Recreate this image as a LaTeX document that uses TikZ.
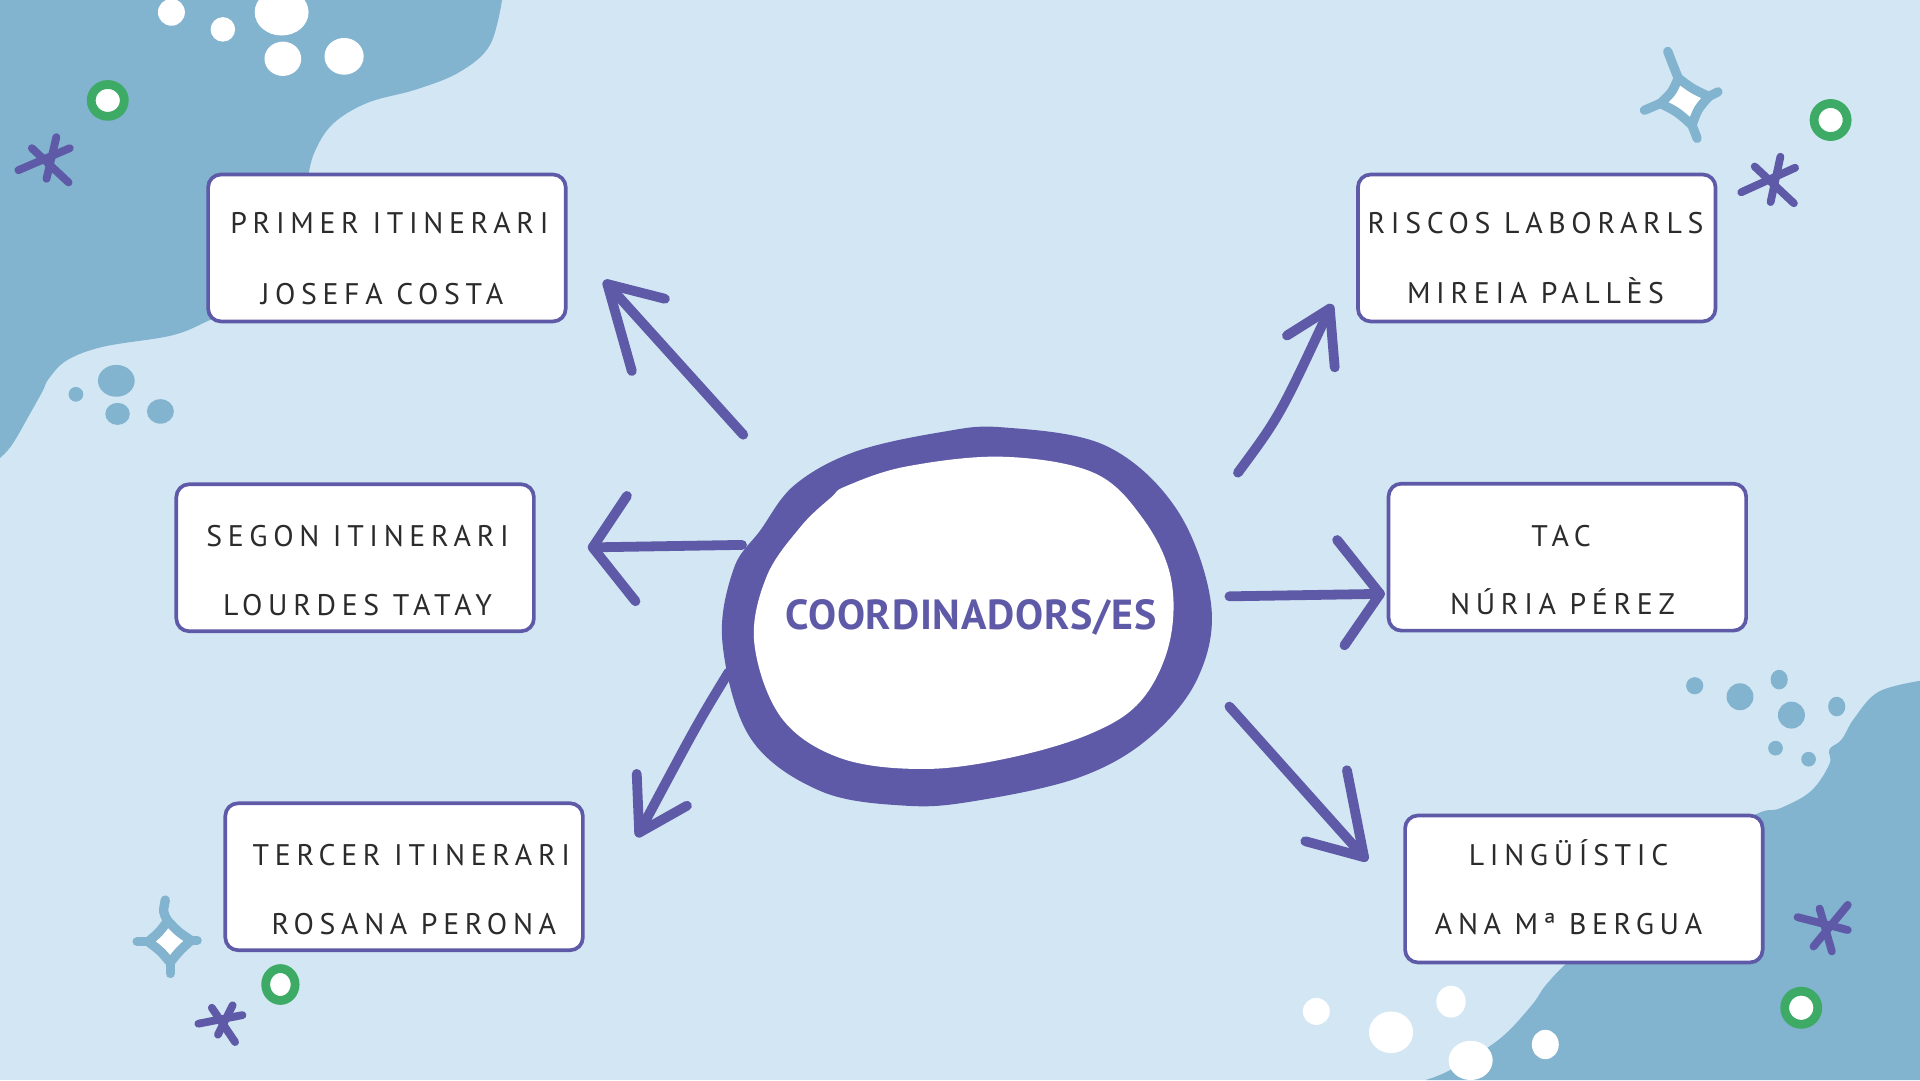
\documentclass[tikz,border=0pt]{standalone}
\usepackage{fontspec}
\newfontfamily\boxfont{PT Sans}[LetterSpace=19]
\newfontfamily\titlefont{PT Sans}[LetterSpace=2]
\usetikzlibrary{calc}
\definecolor{bgblue}{HTML}{D2E7F3}
\definecolor{blobblue}{HTML}{82B3CF}
\definecolor{purp}{HTML}{5E5AA8}
\definecolor{grn}{HTML}{3DAA66}
\definecolor{txt}{HTML}{2B2B2B}
\begin{document}
\begin{tikzpicture}[x=0.25mm,y=-0.25mm,
  boxnode/.style={draw=purp,line width=0.75mm,fill=white,rounded corners=2.6mm,minimum width=73mm,minimum height=30mm,inner sep=0pt},
  lbl/.style={anchor=base,inner sep=0pt,text=txt,font=\boxfont\fontsize{17.3pt}{20pt}\selectfont},
  arr/.style={draw=purp,line width=2mm,line cap=round,line join=round},
  ast/.style={draw=purp,line width=1.6mm,line cap=round},
  spark/.style={draw=blobblue,fill=white,line width=1.9mm,line join=round},
  sparktail/.style={draw=blobblue,line width=1.9mm,line cap=round},
  ring/.style={draw=grn,fill=white,line width=1.8mm},
  dot/.style={fill=white},
  ldot/.style={fill=blobblue}]
% background
\useasboundingbox (0,0) rectangle (1568,882);
\fill[bgblue] (0,0) rectangle (1568,882);
% top-left blob
\fill[blobblue] (0,0) -- (410,0) -- plot[smooth,tension=0.6] coordinates {(410,0) (400,37) (375,59) (340,73) (300,84) (272,101) (257,124) (250,150) (235,210) (205,245) (170,262) (140,274) (85,283) (55,294) (40,309) (35,319) (25,337) (10,363) (0,374)} -- cycle;
% bottom-right blob
\fill[blobblue] (1568,882) -- (1568,556) -- plot[smooth,tension=0.6] coordinates {(1568,556) (1534,565) (1514,587) (1504,604) (1494,612) (1494,624) (1479,646) (1454,660) (1429,668) (1360,720) (1300,770) (1279,787) (1262,805) (1250,822) (1224,849) (1184,874) (1164,882)} -- cycle;
% white dots top-left
\fill[dot] (140,10) ellipse (11 and 11);
\fill[dot] (182,24) ellipse (10 and 10);
\fill[dot] (230,10) ellipse (22 and 19);
\fill[dot] (231,48) ellipse (15 and 14);
\fill[dot] (281,46) ellipse (16 and 15);
% light dots left
\fill[ldot] (95,311) ellipse (15 and 13);
\fill[ldot] (62,322) ellipse (6 and 6);
\fill[ldot] (96,338) ellipse (10 and 9);
\fill[ldot] (131,336) ellipse (11 and 10);
% white dots bottom-right
\fill[dot] (1075,826) ellipse (11 and 11);
\fill[dot] (1136,843) ellipse (18 and 17);
\fill[dot] (1185,818) ellipse (12 and 13);
\fill[dot] (1201,866) ellipse (18 and 16);
\fill[dot] (1262,853) ellipse (11 and 12);
% light dots right
\fill[ldot] (1384,560) ellipse (7 and 7);
\fill[ldot] (1421,569) ellipse (11 and 11);
\fill[ldot] (1453,555) ellipse (7 and 8);
\fill[ldot] (1463,584) ellipse (11 and 11);
\fill[ldot] (1500,577) ellipse (7 and 8);
\fill[ldot] (1450,611) ellipse (6 and 6);
\fill[ldot] (1477,620) ellipse (6 and 6);
% green rings
\draw[ring] (88,82) ellipse (13.5 and 13);
\draw[ring] (1495,98) ellipse (13.5 and 13.5);
\draw[ring] (229,804) ellipse (12 and 13);
\draw[ring] (1471,823) ellipse (13.5 and 13.5);
% asterisks
\draw[ast] (46,112) -- (38,146);
\draw[ast] (57,121) -- (15,139);
\draw[ast] (26,121) -- (56,149);
\draw[ast] (1454,128) -- (1446,165);
\draw[ast] (1466,137) -- (1422,157);
\draw[ast] (1433,136) -- (1465,166);
\draw[ast] (190,821) -- (178,845);
\draw[ast] (198,829) -- (162,836);
\draw[ast] (173,823) -- (192,851);
\draw[ast] (1509,739) -- (1481,773);
\draw[ast] (1468,749) -- (1509,759.5);
\draw[ast] (1486,742) -- (1496,777);
% sparkles
\draw[sparktail] (1370.6,63.8) .. controls (1367,55) .. (1362,42);
\draw[sparktail] (1395.6,78.8) -- (1403,75);
\draw[sparktail] (1381.8,102.2) -- (1386,113);
\draw[sparktail] (1356,84.4) -- (1343,90);
\draw[spark] (1370.6,63.8) .. controls (1382,72.5) .. (1395.6,78.8) .. controls (1386.5,89) .. (1381.8,102.2) .. controls (1370,91.5) .. (1356,84.4) .. controls (1365.5,75.5) .. cycle;
\draw[sparktail] (137,752) .. controls (133,745) .. (135,735);
\draw[sparktail] (156,768) -- (161,768);
\draw[sparktail] (139,786) -- (139,795);
\draw[sparktail] (121,769) -- (112,769);
\draw[spark] (137,752) .. controls (145.5,761) .. (156,768) .. controls (146.5,776.5) .. (139,786) .. controls (131,776.5) .. (121,769) .. controls (130,761.5) .. cycle;
% central ring
\fill[purp] plot[smooth cycle,tension=0.6] coordinates {(819,349) (903,364) (961,416) (989,493) (978,554) (938,603) (881,635) (797,654) (740,658) (670,646) (613,603) (590,525) (599,465) (621,433) (649,396) (698,369) (768,353)};
\fill[white] plot[smooth cycle,tension=0.6] coordinates {(819,373) (893,386) (933,423) (956,471) (955,525) (932,572) (891,599) (824,619) (754,628) (686,619) (638,586) (616,525) (626,471) (654,430) (679,406) (691,397) (740,381)};
\node[anchor=base,inner sep=0pt,text=purp,font=\titlefont\bfseries\fontsize{24.4pt}{28pt}\selectfont] (hub) at (793,514) {COORDINADORS/ES};
% boxes
\node[boxnode] (b1) at (316,202.5) {};
\node[boxnode] (b2) at (290,455.5) {};
\node[boxnode] (b3) at (330,716) {};
\node[boxnode] (b4) at (1255,202.5) {};
\node[boxnode] (b5) at (1280,455) {};
\node[boxnode] (b6) at (1293.5,726) {};
\node[lbl] (t1a) at (318,191) {PRIMER ITINERARI};
\node[lbl] (t1b) at (312,249) {JOSEFA COSTA};
\node[lbl] (t2a) at (292,446) {SEGON ITINERARI};
\node[lbl] (t2b) at (292,503) {LOURDES TATAY};
\node[lbl] (t3a) at (336,707) {TERCER ITINERARI};
\node[lbl] (t3b) at (338,763) {ROSANA PERONA};
\node[lbl] (t4a) at (1254,191) {RISCOS LABORARLS};
\node[lbl] (t4b) at (1254,248) {MIREIA PALLÈS};
\node[lbl] (t5a) at (1275,446) {TAC};
\node[lbl] (t5b) at (1276,502) {NÚRIA PÉREZ};
\node[lbl] (t6a) at (1281,707) {LINGÜÍSTIC};
\node[lbl] (t6b) at (1281,763) {ANA Mª BERGUA};
% arrow coordinates
\coordinate (s1) at (607,355); \coordinate (e1) at (496,232);
\coordinate (s2) at (606,445); \coordinate (e2) at (484,447);
\coordinate (s3) at (595,549); \coordinate (e3) at (522,680);
\coordinate (s4) at (1011,386); \coordinate (e4) at (1086,252);
\coordinate (s5) at (1004,487); \coordinate (e5) at (1127,485);
\coordinate (s6) at (1004,577); \coordinate (e6) at (1114,700);
% arrows
\draw[arr] (s1) -- (e1);
\draw[arr] (543,244) -- (e1) -- (516,303);
\draw[arr] (s2) -- (e2);
\draw[arr] (512,405) -- (e2) -- (519,491);
\draw[arr] (s3) .. controls (570,590) .. (e3);
\draw[arr] (520,632) -- (e3) -- (561,658);
\draw[arr] (s4) .. controls (1045,340) .. (e4);
\draw[arr] (1051,274) -- (e4) -- (1090,300);
\draw[arr] (s5) -- (e5);
\draw[arr] (1092,441) -- (e5) -- (1098,527);
\draw[arr] (s6) -- (e6);
\draw[arr] (1100,629) -- (e6) -- (1066,687);
\end{tikzpicture}
\end{document}
